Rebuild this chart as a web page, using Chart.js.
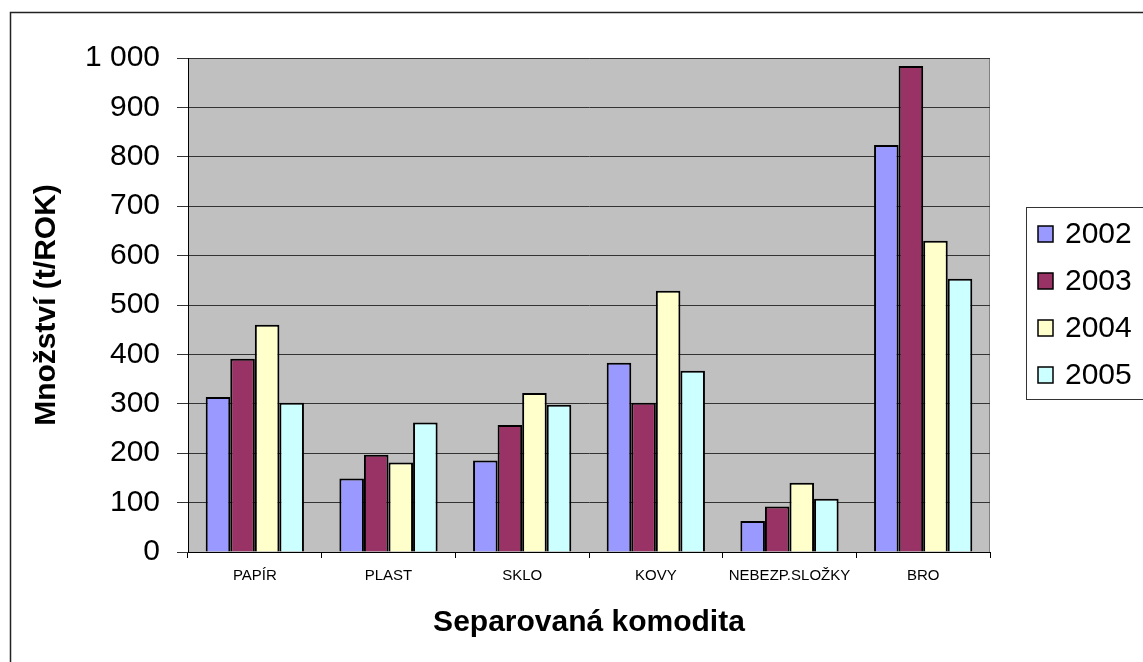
<!DOCTYPE html>
<html>
<head>
<meta charset="utf-8">
<script src="https://cdn.jsdelivr.net/npm/chart.js@4"></script>
<style>
  html, body { margin: 0; padding: 0; background: #fff; }
  #wrap { width: 1143px; height: 662px; position: relative; }
</style>
</head>
<body>
<div id="wrap"><canvas id="c" width="1143" height="662"></canvas></div>
<script>
const categories = ['PAPÍR', 'PLAST', 'SKLO', 'KOVY', 'NEBEZP.SLOŽKY', 'BRO'];
const seriesNames = ['2002', '2003', '2004', '2005'];
const values2002 = [314, 149, 185, 383, 63, 824];
const values2003 = [391, 197, 257, 302, 92, 984];
const values2004 = [460, 181, 322, 529, 140, 630];
const values2005 = [302, 262, 298, 367, 108, 553];
const seriesColors = ['#9999FF', '#993366', '#FFFFCC', '#CCFFFF'];
const yTicks = { min: 0, max: 1000, step: 100 };
const yTitle = 'Množství (t/ROK)';
const xTitle = 'Separovaná komodita';

const FONT = '"Liberation Sans", Arial, sans-serif';
const allValues = [values2002, values2003, values2004, values2005];

const bgPlugin = {
  id: 'bg',
  beforeDraw(chart) {
    const { ctx, chartArea: a } = chart;
    ctx.save();
    ctx.fillStyle = '#fff';
    ctx.fillRect(0, 0, chart.width, chart.height);
    ctx.fillStyle = '#C0C0C0';
    ctx.fillRect(a.left, a.top, a.right - a.left, a.bottom - a.top);
    ctx.strokeStyle = '#808080';
    ctx.lineWidth = 1;
    ctx.strokeRect(a.left + 0.5, a.top + 0.5, a.right - a.left - 1, a.bottom - a.top);
    // outer chart border
    ctx.strokeStyle = '#222';
    ctx.lineWidth = 1.5;
    ctx.strokeRect(10.5, 12.5, 1200, 700);
    ctx.restore();
  },
  afterDraw(chart) {
    const { ctx } = chart;
    ctx.save();
    // legend box
    ctx.fillStyle = '#fff';
    ctx.strokeStyle = '#333';
    ctx.lineWidth = 1;
    ctx.fillRect(1026, 207, 200, 192);
    ctx.strokeRect(1026.5, 207.5, 200, 192);
    ctx.font = '30px ' + FONT;
    ctx.textBaseline = 'middle';
    ctx.textAlign = 'left';
    chart.data.datasets.forEach((ds, i) => {
      const cy = 234 + i * 47;
      ctx.fillStyle = ds.backgroundColor;
      ctx.fillRect(1038, cy - 8, 15, 16);
      ctx.strokeStyle = '#000';
      ctx.lineWidth = 1.5;
      ctx.strokeRect(1038, cy - 8, 15, 16);
      ctx.fillStyle = '#000';
      ctx.fillText(ds.label, 1065, cy + 1);
    });
    ctx.restore();
  }
};

new Chart(document.getElementById('c'), {
  type: 'bar',
  data: {
    labels: categories,
    datasets: seriesNames.map((name, i) => ({
      label: name,
      data: allValues[i],
      backgroundColor: seriesColors[i],
      borderColor: '#000',
      borderWidth: 2,
      categoryPercentage: 0.735,
      barPercentage: 1.0
    }))
  },
  options: {
    responsive: false,
    animation: false,
    devicePixelRatio: 1,
    layout: { padding: { left: 0, right: 153, top: 58, bottom: 0 } },
    plugins: {
      legend: { display: false },
      tooltip: { enabled: false }
    },
    scales: {
      x: {
        offset: true,
        grid: { display: true, drawOnChartArea: false, offset: true, tickLength: 6, color: '#000', lineWidth: 1 },
        border: { display: true, color: '#000', width: 1 },
        ticks: { color: '#000', font: { family: FONT, size: 15 }, padding: 9, maxRotation: 0, autoSkip: false },
        title: { display: true, text: xTitle, color: '#000', font: { family: FONT, size: 30, weight: 'bold' }, padding: { top: 0, bottom: 21 } },
        afterFit(scale) { scale.height = 110; }
      },
      y: {
        min: yTicks.min,
        max: yTicks.max,
        grid: { color: '#333', lineWidth: 1, tickLength: 11, drawTicks: true },
        border: { display: true, color: '#000', width: 1 },
        ticks: {
          stepSize: yTicks.step,
          color: '#000',
          font: { family: FONT, size: 30 },
          padding: 17,
          callback: v => String(v).replace(/\B(?=(\d{3})+(?!\d))/g, ' ')
        },
        title: { display: true, text: yTitle, color: '#000', font: { family: FONT, size: 30, weight: 'bold' }, padding: { top: 29, bottom: 0 } },
        afterFit(scale) { scale.width = 188; }
      }
    }
  },
  plugins: [bgPlugin]
});
</script>
</body>
</html>
